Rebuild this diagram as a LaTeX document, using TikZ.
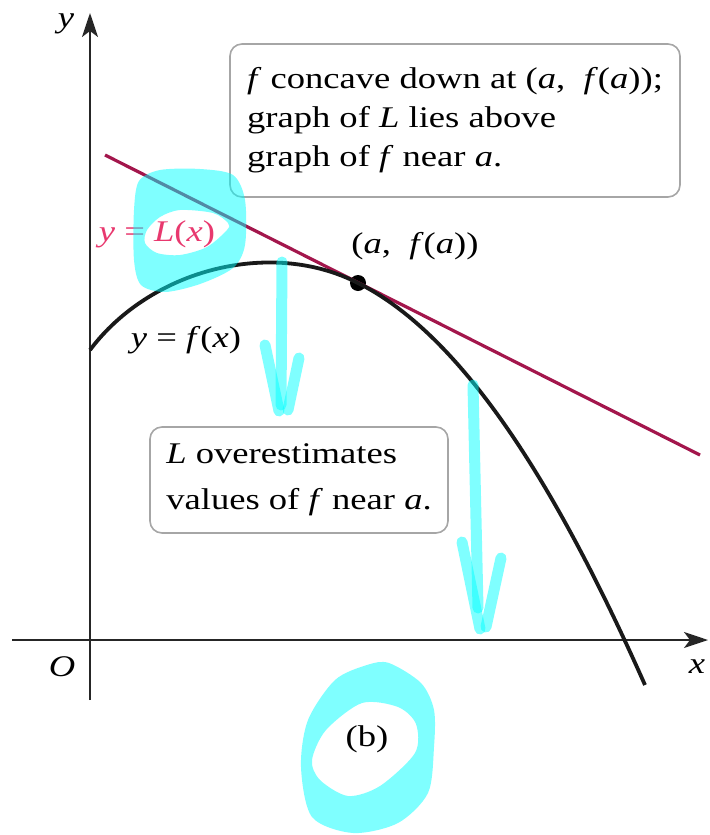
\documentclass[tikz,border=0pt]{standalone}
\usepackage{fontspec}
\setmainfont{Liberation Serif}[FakeStretch=1.22]
\usetikzlibrary{arrows.meta, positioning, calc}

\definecolor{tanLine}{HTML}{A3164C}
\definecolor{tanLabel}{HTML}{E8386E}
\definecolor{boxEdge}{HTML}{A6A6A6}
\definecolor{markCyan}{HTML}{00FFFF}

\tikzset{
  axisline/.style={-{Stealth[length=12pt, width=8pt, inset=3pt]}, line width=1pt, black!85},
  fcurve/.style={line width=1.9pt, black!90},
  tangent/.style={line width=1.6pt, tanLine},
  notebox/.style={draw=boxEdge, line width=0.8pt, rounded corners=6pt, fill=white,
    align=left, inner sep=0pt},
  lbl/.style={font=\fontsize{15}{19}\selectfont, inner sep=0pt},
  dot/.style={circle, fill=black, inner sep=0pt, minimum size=8pt},
  hilite/.style={fill=markCyan, fill opacity=0.5, even odd rule},
  hilitestroke/.style={draw=markCyan, draw opacity=0.5, line width=5.5pt, line cap=round, line join=round}
}

\begin{document}
\begin{tikzpicture}[x=0.5pt, y=-0.5pt]
  \useasboundingbox (0,0) rectangle (709,835);
  % axes
  \draw[axisline] (90,700) -- (90,13);
  \draw[axisline] (12,640) -- (708,640);
  \node[lbl] (ylab) at (66,24) {\textit{y}};
  \node[lbl] (xlab) at (697,667) {\textit{x}};
  \node[lbl] (orig) at (62,667) {\textit{O}};
  % tangent line and graph
  \node[dot] (pt) at (358,283) {};
  \coordinate (Lstart) at (105,155);
  \coordinate (Lend) at (700,455);
  \draw[tangent] (Lstart) -- (Lend);
  \draw[fcurve] (90,350) .. controls (150,270) and (270,238) .. (pt.center)
    .. controls (470,339) and (565,505) .. (645,685);
  \node[lbl, text=tanLabel] (Llab) at (157,234) {\textit{y} = \textit{L}(\textit{x})};
  \node[lbl] (flab) at (186,340) {\textit{y} = \textit{f}(\textit{x})};
  \node[lbl, above right=8.5pt and -6.5pt of pt] (ptlab) {(\textit{a},\ \ \textit{f}(\textit{a}))};
  % notes
  \node[notebox, font=\fontsize{15}{19.5}\selectfont, minimum width=225pt, minimum height=76.5pt]
    (concave) at (455,120.5)
    {\textit{f} concave down at (\textit{a},\ \ \textit{f}(\textit{a}));\\
     graph of \textit{L} lies above\\
     graph of \textit{f} near \textit{a}.};
  \node[notebox, font=\fontsize{15}{23}\selectfont, minimum width=149pt, minimum height=53pt]
    (over) at (299,480)
    {\textit{L} overestimates\\
     values of \textit{f} near \textit{a}.};
  \node[lbl] (cap) at (367,739) {(b)};
  % highlighter marks
  \fill[hilite] plot[smooth cycle] coordinates {(134,210) (139,181) (160,170) (200,169) (233,175)
      (245,200) (245,245) (233,268) (200,284) (165,292) (141,285) (134,260)}
    plot[smooth cycle] coordinates {(147,230) (160,217) (180,210) (213,213) (228,223)
      (227,230) (207,247) (180,255) (157,253) (145,243)};
  \draw[hilitestroke] (282,262) -- (281,405);
  \draw[hilitestroke] (265,345) -- (279,411);
  \draw[hilitestroke] (299,358) -- (288,410);
  \draw[hilitestroke] (473,385) -- (478,608);
  \draw[hilitestroke] (462,542) -- (480,629);
  \draw[hilitestroke] (501,558) -- (486,627);
  \fill[hilite] plot[smooth cycle] coordinates {(367,665) (389,663) (421,683) (434,710) (434,747)
      (428,793) (398,823) (353,833) (312,817) (301,767) (308,720) (335,680)}
    plot[smooth cycle] coordinates {(362,703) (398,707) (416,724) (415,753) (380,786)
      (348,796) (320,780) (312,760) (326,730)};
\end{tikzpicture}
\end{document}
